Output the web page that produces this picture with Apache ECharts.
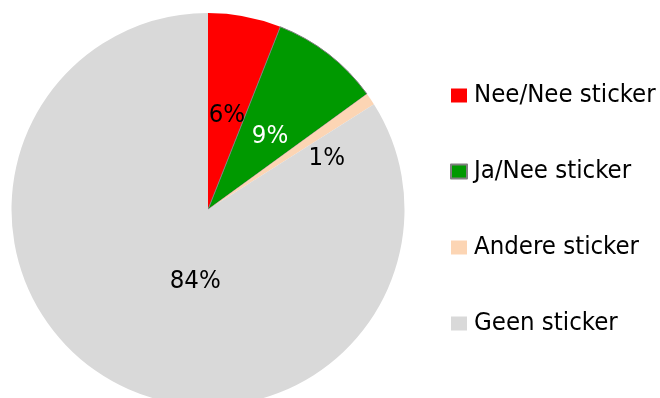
<!DOCTYPE html>
<html>
<head>
<meta charset="utf-8">
<script src="https://cdn.jsdelivr.net/npm/echarts@6/dist/echarts.min.js"></script>
<style>
  html, body { margin: 0; padding: 0; background: #ffffff; }
  #chart { width: 660px; height: 398px; }
</style>
</head>
<body>
<div id="chart"></div>
<script>
// Sticker types and their share (percent)
const categories = ['Nee/Nee sticker', 'Ja/Nee sticker', 'Andere sticker', 'Geen sticker'];
const shares = [6, 9, 1, 84];
const colors = ['#ff0000', '#009900', '#fcd5b4', '#d9d9d9'];
const labelColors = ['#000000', '#ffffff', '#000000', '#000000'];
// small nudges for the slice labels (px)
const labelShift = [[0, 5], [0, 7], [35, 6], [36, -17]];

const FONT = '"DejaVu Sans Condensed", "DejaVu Sans", sans-serif';

const chart = echarts.init(document.getElementById('chart'), null, { renderer: 'canvas' });

chart.setOption({
  animation: false,
  backgroundColor: '#ffffff',
  legend: {
    orient: 'vertical',
    left: 450,
    top: 80.5,
    padding: 0,
    itemWidth: 16,
    itemHeight: 14,
    itemGap: 46,
    icon: 'rect',
    textStyle: {
      fontFamily: FONT,
      fontSize: 25.5,
      color: '#000000',
      lineHeight: 30,
      padding: [0, 0, 0, 2]
    },
    data: categories
  },
  series: [{
    type: 'pie',
    center: [208, 209.5],
    radius: [0, 196.5],
    startAngle: 90,
    clockwise: true,
    avoidLabelOverlap: false,
    label: {
      show: true,
      position: 'inside',
      fontFamily: FONT,
      fontSize: 25.5,
      formatter: p => p.value + '%'
    },
    labelLine: { show: false },
    labelLayout: p => ({ dx: labelShift[p.dataIndex][0], dy: labelShift[p.dataIndex][1] }),
    emphasis: { disabled: true },
    data: categories.map((name, i) => ({
      name: name,
      value: shares[i],
      itemStyle: i === 1
        ? { color: colors[i], borderColor: '#7f7f7f', borderWidth: 1 }
        : { color: colors[i], borderWidth: 0 },
      label: { color: labelColors[i] }
    }))
  }]
});
</script>
</body>
</html>
